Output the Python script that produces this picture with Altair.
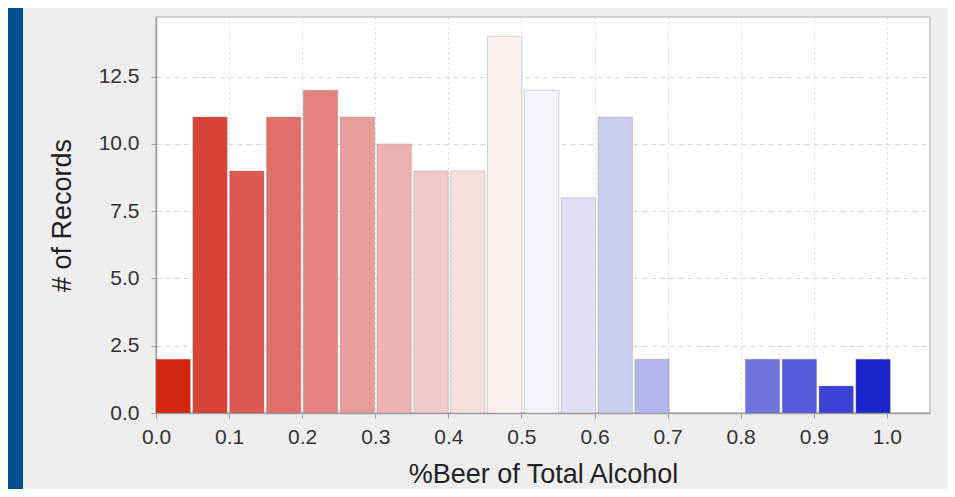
import altair as alt
import pandas as pd

# Histogram bins (start of each bin on "%Beer of Total Alcohol") and record counts
bin_start = [0.0, 0.0504, 0.1008, 0.1512, 0.2016, 0.252, 0.3024, 0.3528, 0.4032, 0.4536,
             0.504, 0.5544, 0.6048, 0.6552, 0.7056, 0.756, 0.8064, 0.8568, 0.9072, 0.9576]
counts = [2, 11, 9, 11, 12, 11, 10, 9, 9, 14, 12, 8, 11, 2, 0, 0, 2, 2, 1, 2]
bar_colors = ["#d3260f", "#d84236", "#dc5852", "#e06f6a", "#e3837f", "#e89d9b", "#edb3b2",
              "#f2c9ca", "#f6dfdf", "#fcf1ef", "#f3f4fc", "#dfe0f3", "#cacdf0", "#b3b6ec",
              "#9a9ee8", "#8589e4", "#6f74de", "#575bdb", "#3b40d6", "#1a25cc"]
x_ticks = [0.0, 0.1, 0.2, 0.3, 0.4, 0.5, 0.6, 0.7, 0.8, 0.9, 1.0]
y_ticks = [0.0, 2.5, 5.0, 7.5, 10.0, 12.5]

df = pd.DataFrame({"start": bin_start, "count": counts, "color": bar_colors})

W, H = 774, 396
FONT = "Liberation Sans"

x_scale = alt.Scale(domain=[0, 1.059], nice=False, zero=False)
y_scale = alt.Scale(domain=[0, 14.72], nice=False)

bars = alt.Chart(df).transform_filter(
    "datum.count > 0"
).transform_calculate(
    end="datum.start + 0.047"
).mark_rect(stroke="#888888", strokeOpacity=0.35, strokeWidth=1).encode(
    x=alt.X("start:Q", scale=x_scale,
            axis=alt.Axis(values=x_ticks, format=".1f", title="%Beer of Total Alcohol",
                          grid=True, gridDash=[2, 3], labelPadding=8, titlePadding=14,
                          labelFlush=False)),
    x2="end:Q",
    y=alt.Y("count:Q", scale=y_scale,
            axis=alt.Axis(values=y_ticks, format=".1f", title="# of Records",
                          grid=True, gridDash=[5, 4], labelPadding=12, titlePadding=22,
                          labelFlush=False)),
    y2=alt.datum(0),
    color=alt.Color("color:N", scale=None),
)

# decorative blue frame strip on the left of the panel
strip = alt.Chart(df).mark_rect(color="#03508f").encode(
    x=alt.value(-148), x2=alt.value(-133), y=alt.value(-9), y2=alt.value(H + 76)
)

chart = alt.layer(strip, bars).properties(
    width=W, height=H,
    autosize=alt.AutoSizeParams(type="none"),
    padding={"left": 148, "top": 9, "right": 17, "bottom": 76},
    background="#eeeeee",
).configure_view(
    fill="white", stroke="#c4c4c4", strokeWidth=1.5
).configure_axis(
    labelFont=FONT, titleFont=FONT, labelFontSize=21, titleFontSize=27,
    labelColor="#333333", titleColor="#222222", titleFontWeight="normal",
    domainColor="#a0a0a0", domainWidth=1.5, tickColor="#a0a0a0", tickSize=5,
    gridColor="#d6d6d6", gridWidth=1,
)

chart.save("out.html", embed_options={"renderer": "svg", "actions": False})
